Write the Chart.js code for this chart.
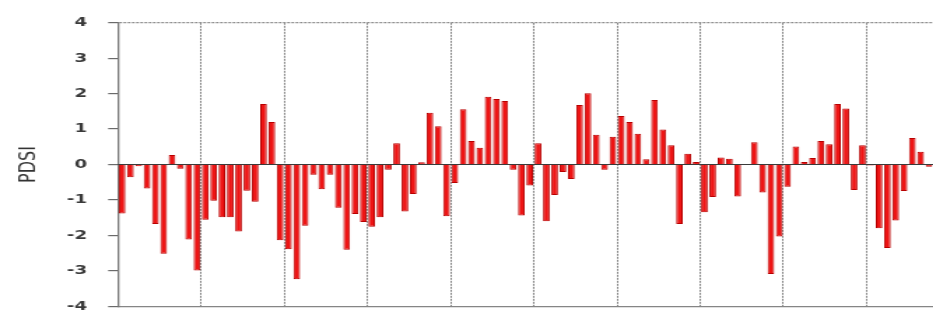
<!DOCTYPE html>
<html>
<head>
<meta charset="utf-8">
<script src="https://cdn.jsdelivr.net/npm/chart.js@4.4.1/dist/chart.umd.min.js"></script>
<style>
  html, body { margin: 0; padding: 0; background: #fff; overflow: hidden; }
  /* the plot is laid out narrow and stretched sideways, like the wide-aspect original figure */
  #wrap {
    position: absolute; left: 0; top: 0;
    width: 667px; height: 329px;
    transform: scaleX(1.399); transform-origin: 0 0;
  }
</style>
</head>
<body>
<div id="wrap"><canvas id="pdsi"></canvas></div>
<script>
// one value per year
const years = [
  1901, 1902, 1903, 1904, 1905, 1906, 1907, 1908, 1909, 1910,
  1911, 1912, 1913, 1914, 1915, 1916, 1917, 1918, 1919, 1920,
  1921, 1922, 1923, 1924, 1925, 1926, 1927, 1928, 1929, 1930,
  1931, 1932, 1933, 1934, 1935, 1936, 1937, 1938, 1939, 1940,
  1941, 1942, 1943, 1944, 1945, 1946, 1947, 1948, 1949, 1950,
  1951, 1952, 1953, 1954, 1955, 1956, 1957, 1958, 1959, 1960,
  1961, 1962, 1963, 1964, 1965, 1966, 1967, 1968, 1969, 1970,
  1971, 1972, 1973, 1974, 1975, 1976, 1977, 1978, 1979, 1980,
  1981, 1982, 1983, 1984, 1985, 1986, 1987, 1988, 1989, 1990,
  1991, 1992, 1993, 1994, 1995, 1996, 1997, 1998
];

const pdsi = [
  -1.38, -0.36, -0.05, -0.68, -1.68, -2.52,  0.27, -0.12, -2.12, -2.99,
  -1.56, -1.02, -1.49, -1.49, -1.89, -0.74, -1.05,  1.71,  1.20, -2.14,
  -2.39, -3.24, -1.73, -0.29, -0.70, -0.29, -1.22, -2.41, -1.40, -1.62,
  -1.76, -1.49, -0.15,  0.60, -1.33, -0.83,  0.06,  1.46,  1.08, -1.46,
  -0.52,  1.56,  0.66,  0.47,  1.91,  1.85,  1.79, -0.15, -1.44, -0.59,
   0.60, -1.60, -0.86, -0.21, -0.41,  1.68,  2.01,  0.84, -0.15,  0.78,
   1.37,  1.20,  0.87,  0.15,  1.82,  0.99,  0.54, -1.68,  0.30,  0.07,
  -1.35, -0.92,  0.20,  0.16, -0.90,  0.00,  0.63, -0.79, -3.09, -2.03,
  -0.63,  0.51,  0.07,  0.18,  0.66,  0.57,  1.71,  1.58, -0.72,  0.54,
  -0.03, -1.80, -2.36, -1.58, -0.75,  0.75,  0.36, -0.06
];

const yTickLabels = ['4', '3', '2', '1', '0', '-1', '-2', '-3', '-4'];
const yTickValues = [4, 3, 2, 1, 0, -1, -2, -3, -4];

// solid zero line across the plot, under the bars
const zeroLine = {
  id: 'zeroLine',
  beforeDatasetsDraw(chart) {
    const { ctx, chartArea, scales } = chart;
    const y = scales.y.getPixelForValue(0);
    ctx.save();
    ctx.strokeStyle = '#3a3a3a';
    ctx.lineWidth = 1.2;
    ctx.beginPath();
    ctx.moveTo(chartArea.left, y);
    ctx.lineTo(chartArea.right, y);
    ctx.stroke();
    ctx.restore();
  }
};

new Chart(document.getElementById('pdsi'), {
  type: 'bar',
  data: {
    labels: years,
    datasets: [{
      data: pdsi,
      backgroundColor: '#ee1414',
      borderColor: '#b80000',
      borderWidth: 1,
      barPercentage: 0.8,
      categoryPercentage: 1.0
    }]
  },
  options: {
    responsive: true,
    maintainAspectRatio: false,
    animation: false,
    layout: { padding: { left: 0, right: 0, top: 16, bottom: 16 } },
    plugins: {
      legend: { display: false },
      tooltip: { enabled: false }
    },
    scales: {
      x: {
        type: 'category',
        offset: true,
        ticks: { display: false },
        grid: {
          offset: true,
          drawTicks: false,
          lineWidth: 1,
          color: (c) => (c.index > 0 && c.index < years.length && c.index % 10 === 0) ? '#858585' : 'rgba(0,0,0,0)'
        },
        border: { display: true, color: '#858585', width: 1.2, dash: [2, 1] },
        afterFit: (scale) => { scale.height = 0; }
      },
      y: {
        min: -4,
        max: 4,
        afterBuildTicks: (scale) => { scale.ticks = yTickValues.map(v => ({ value: v })); },
        ticks: {
          padding: 15,
          color: '#3a3a3a',
          font: { family: 'DejaVu Sans', size: 13, weight: 'bold' },
          callback: (value) => yTickLabels[yTickValues.indexOf(value)]
        },
        grid: {
          drawTicks: true,
          tickLength: 7,
          tickColor: '#6a6a6a',
          lineWidth: 1.2,
          color: (c) => (c.tick && c.tick.value === 4) ? '#8c8c8c' : 'rgba(0,0,0,0)'
        },
        border: { display: true, color: '#777', width: 1.3, dash: [2, 1] },
        title: {
          display: true,
          text: 'PDSI',
          color: '#333',
          font: { family: 'DejaVu Sans', size: 16, weight: 'normal' },
          padding: { top: 11.5, bottom: 0 }
        },
        afterFit: (scale) => { scale.width = 84.3; }
      }
    }
  },
  plugins: [zeroLine]
});
</script>
</body>
</html>
